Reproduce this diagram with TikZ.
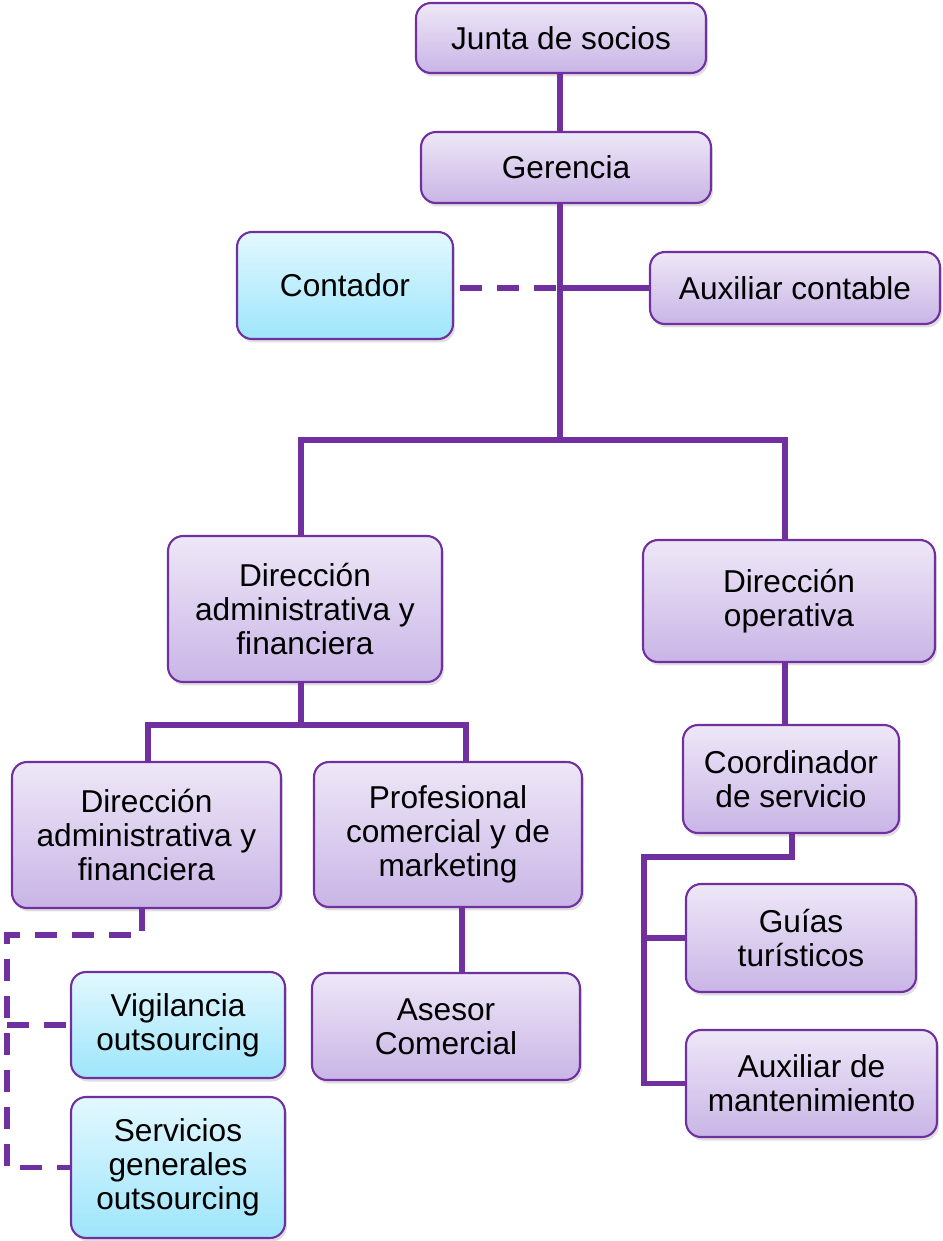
\documentclass[tikz,border=0pt]{standalone}
\usepackage{fontspec}
\setmainfont{Liberation Sans}
\usetikzlibrary{shadows}
\definecolor{morado}{RGB}{112,48,160}
\definecolor{lilaA}{RGB}{238,231,247}
\definecolor{lilaB}{RGB}{201,181,230}
\definecolor{celesteA}{RGB}{226,248,254}
\definecolor{celesteB}{RGB}{158,229,251}
\tikzset{
  cargo/.style={draw=morado, line width=1.2pt, rounded corners=0.3cm,
    top color=lilaA, bottom color=lilaB, align=center, inner sep=0pt,
    font=\fontsize{18}{19.5}\selectfont,
    drop shadow={shadow xshift=0.04cm, shadow yshift=-0.07cm, opacity=0.25}},
  externo/.style={cargo, top color=celesteA, bottom color=celesteB},
  linea/.style={draw=morado, line width=3pt},
  punteada/.style={linea, dash pattern=on 0.44cm off 0.3cm}
}
\begin{document}
\begin{tikzpicture}[x=0.02cm, y=-0.02cm]
    \useasboundingbox (0,0) rectangle (943,1241);
    % Top: board and management
    \node[cargo, minimum width=5.80cm, minimum height=1.40cm] (junta) at (561,38) {Junta de socios};
    \node[cargo, minimum width=5.80cm, minimum height=1.42cm] (gerencia) at (566,167.5) {Gerencia};
    \node[externo, minimum width=4.32cm, minimum height=2.14cm] (contador) at (345,285.5) {Contador};
    \node[cargo, minimum width=5.80cm, minimum height=1.44cm] (auxcont) at (795,288) {Auxiliar contable};
    % Two directions
    \node[cargo, minimum width=5.48cm, minimum height=2.92cm] (diradm) at (305,609) {Dirección\\administrativa y\\financiera};
    \node[cargo, minimum width=5.84cm, minimum height=2.44cm] (dirop) at (789,601) {Dirección\\operativa};
    % Administrative branch
    \node[cargo, minimum width=5.38cm, minimum height=2.92cm] (diradmdos) at (146.5,835) {Dirección\\administrativa y\\financiera};
    \node[cargo, minimum width=5.36cm, minimum height=2.90cm] (prof) at (448,834.5) {Profesional\\comercial y de\\marketing};
    \node[externo, minimum width=4.28cm, minimum height=2.12cm] (vigil) at (178,1025) {Vigilancia\\outsourcing};
    \node[externo, minimum width=4.28cm, minimum height=2.82cm] (servic) at (178,1167.5) {Servicios\\generales\\outsourcing};
    \node[cargo, minimum width=5.36cm, minimum height=2.14cm] (asesor) at (446,1026.5) {Asesor\\Comercial};
    % Operative branch
    \node[cargo, minimum width=4.32cm, minimum height=2.16cm] (coord) at (791,779) {Coordinador\\de servicio};
    \node[cargo, minimum width=4.60cm, minimum height=2.16cm] (guias) at (801,938) {Guías\\turísticos};
    \node[cargo, minimum width=5.02cm, minimum height=2.14cm] (auxmant) at (811.5,1083.5) {Auxiliar de\\mantenimiento};
    % Junction points
    \coordinate (tronco) at (560,440);
    \coordinate (ramaizq) at (301,440);
    \coordinate (ramader) at (785,440);
    \coordinate (nudoadm) at (301,725);
    \coordinate (nudoa) at (148,725);
    \coordinate (nudob) at (466,725);
    \coordinate (ejeprof) at (462,940);
    \coordinate (nudoout) at (142,935);
    \coordinate (esqout) at (7,935);
    \coordinate (nudocoord) at (792,857);
    \coordinate (esqcoord) at (644,857);
    % Solid lines
    \draw[linea] (junta.south -| tronco) -- (gerencia.north -| tronco);
    \draw[linea] (gerencia.south -| tronco) -- (tronco);
    \draw[linea] (tronco |- auxcont.west) -- (auxcont.west);
    \draw[linea] (ramaizq |- diradm.north) -- (ramaizq) -- (ramader) -- (ramader |- dirop.north);
    \draw[linea] (ramader |- dirop.south) -- (ramader |- coord.north);
    \draw[linea] (nudoadm |- diradm.south) -- (nudoadm);
    \draw[linea] (nudoa |- diradmdos.north) -- (nudoa) -- (nudob) -- (nudob |- prof.north);
    \draw[linea] (ejeprof |- prof.south) -- (ejeprof |- asesor.north);
    \draw[linea] (nudocoord |- coord.south) -- (nudocoord) -- (esqcoord) -- (esqcoord |- auxmant.west) -- (auxmant.west);
    \draw[linea] (esqcoord |- guias.west) -- (guias.west);
    % Dashed lines (outsourced roles)
    \draw[punteada, shorten <=0.12cm] (contador.east |- auxcont.west) -- (tronco |- auxcont.west);
    \draw[punteada] (nudoout |- diradmdos.south) -- (nudoout) -- (esqout) -- (esqout |- servic.west) -- (servic.west);
    \draw[punteada] (esqout |- vigil.west) -- (vigil.west);
\end{tikzpicture}
\end{document}
